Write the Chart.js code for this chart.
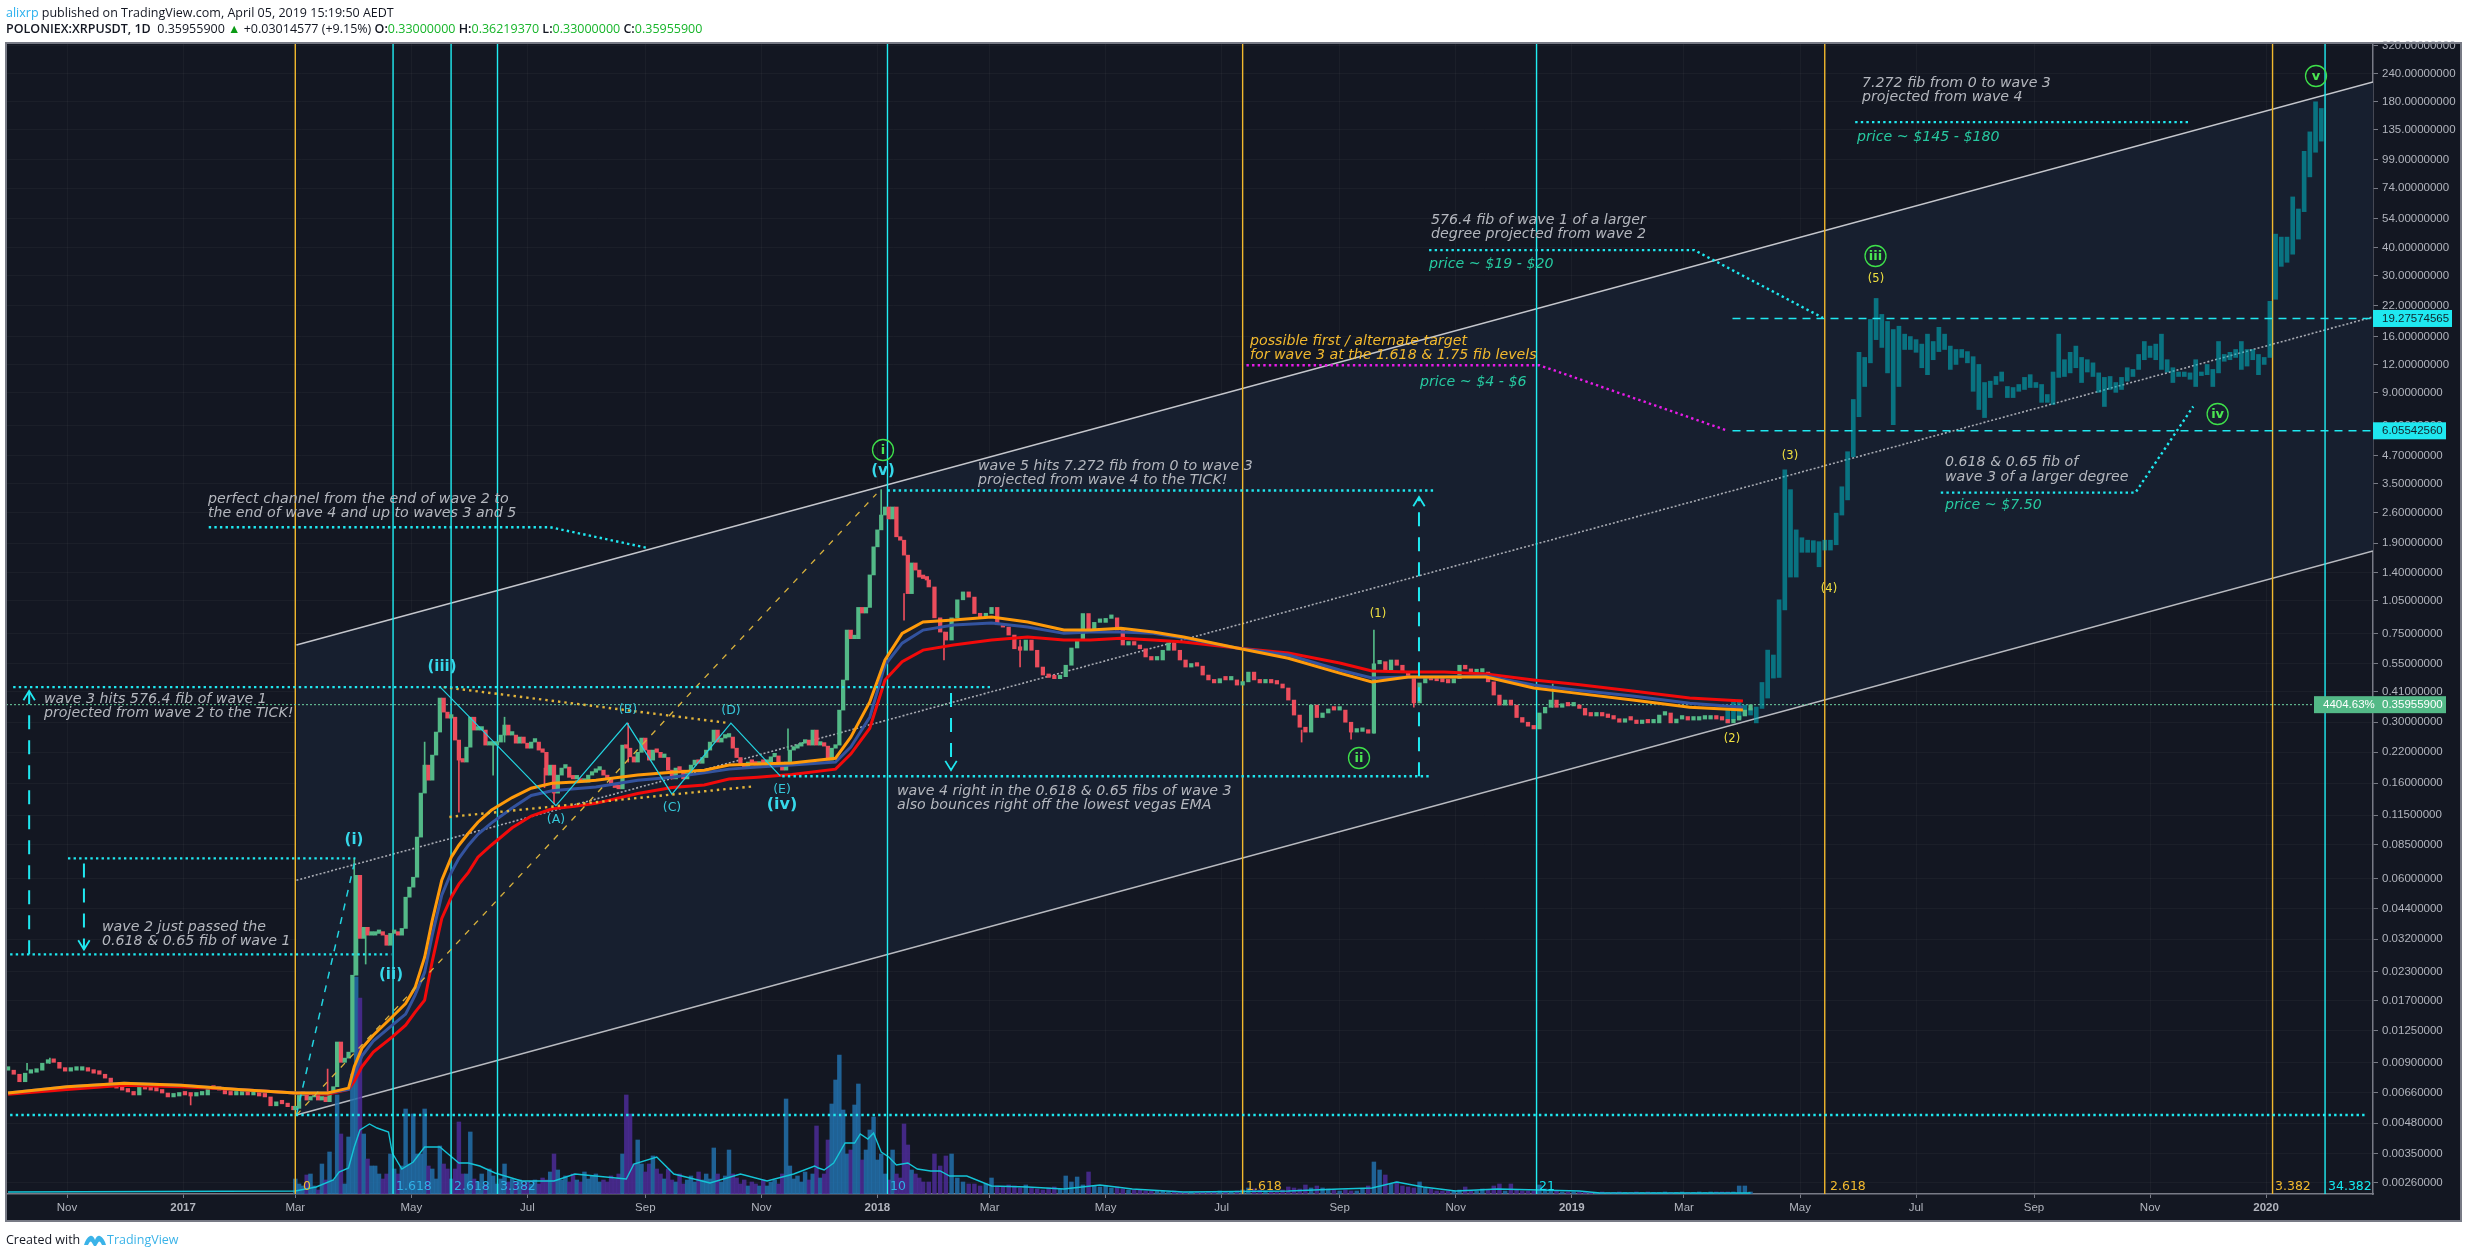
<!DOCTYPE html>
<html><head><meta charset="utf-8">
<script src="https://cdn.jsdelivr.net/npm/chart.js@4"></script>
<style>
html,body{margin:0;padding:0;background:#fff;width:2468px;height:1258px;overflow:hidden}
canvas{position:absolute;left:0;top:0}
.h{position:absolute;left:6px;font-family:"Open Sans",sans-serif;font-size:12.5px;white-space:nowrap;color:#131722;line-height:16px;transform-origin:left center;}
.h b{font-weight:600}.g{color:#17b52a}.bl{color:#2ab0ee}
</style></head><body>
<canvas id="c" width="2468" height="1258"></canvas>
<div class="h" style="top:5px;"><span class="bl">alixrp</span> published on TradingView.com, April 05, 2019 15:19:50 AEDT</div>
<div class="h" style="top:21px;"><b>POLONIEX:XRPUSDT, 1D</b> &nbsp;0.35955900 <span style="color:#0a9a14">▲</span> +0.03014577 (+9.15%) <b>O:</b><span class="g">0.33000000</span> <b>H:</b><span class="g">0.36219370</span> <b>L:</b><span class="g">0.33000000</span> <b>C:</b><span class="g">0.35955900</span></div>
<div class="h" style="top:1232px;">Created with</div>
<svg style="position:absolute;left:83px;top:1233px" width="24" height="14" viewBox="0 0 24 14"><path d="M1 12 Q3 5 7 3 Q10 2 12 7 Q14 2 17 3 Q21 5 23 12 L19 12 Q17 7 15.5 9 L13 13 L11 13 L8.5 9 Q7 7 5 12 Z" fill="#3bb3e8"/></svg>
<div class="h" style="top:1232px;left:107px;color:#3bb3e8;">TradingView</div>
<script>
// ---------- axis ticks ----------
const priceTicks=[320,240,180,135,99,74,54,40,30,22,16,12,9,6.4,4.7,3.5,2.6,1.9,1.4,1.05,.75,.55,.41,.3,.22,.16,.115,.085,.06,.044,.032,.023,.017,.0125,.009,.0066,.0048,.0035,.0026];
const timeTickDays=[0,61,120,181,242,304,365,426,485,546,607,669,730,791,850,911,972,1034,1095,1156];
const timeTickLabels=["Nov","2017","Mar","May","Jul","Sep","Nov","2018","Mar","May","Jul","Sep","Nov","2019","Mar","May","Jul","Sep","Nov","2020"];
// days are counted from 1 Nov 2016

// ---------- candle closes, USD ----------
const closes2016=[.0083,.00796,.00737,.00805,.00813,.0083,.00892,.0091,.009,.00847,.00822,.0083,.0083,.0083,.00822,.00805,.00796,.00765,.00705,.0069,.00676,.00663,.00643,.00705,.00683,.00676,.0067,.00656,.0063,.00636,.0065,.00643,.00636,.00643,.00643,.0069,.00683,.00676,.0065,.00643,.00643,.0065,.00643,.00643,.00636,.0063,.00575,.00599,.00587,.0057,.00552];
const closes2017a=[.0056,.0064,.0066,.0061,.0063,.0064,.0061,.0063,.006,.0066,.007,.0111,.009,.0094,.01,.0221,.0619,.0323,.0362,.0334,.0334,.034,.034,.0334,.0301,.034,.0345,.0334,.0358,.0494,.0548,.0607,.0918,.1445,.1928,.1651,.2138,.2711,.385,.333,.313,.316,.2496,.203,.199,.232,.316,.2767,.2767,.2767,.237,.237,.237,.2445,.2628,.2914,.2628,.2628,.2418,.2575,.2418,.2296,.2445,.2445,.2251,.22,.1739,.1928,.1445,.1739,.187,.189,.17,.1673,.1673,.1617,.1617,.1739,.179,.1831];
const closes2017b=[.1831,.1739,.1673,.1585,.153,.151,.237,.2296,.21,.199,.22,.2548,.2251,.203,.2251,.22,.2086,.2086,.1831,.1673,.187,.1831,.1673,.1775,.1928,.203,.1965,.2085,.2251,.2445,.2767,.2445,.2548,.2575,.2575,.2296,.2085,.1965,.187,.199,.1965,.1928,.199,.1965,.199,.21,.212,.1928,.1831,.199,.2251,.2296,.2345,.2418,.2496,.237,.2767,.237,.2418,.2345,.203,.2296,.237,.34,.4637,.776,.71,.71,.98,.925,.98,1.37,1.83,2.18,2.54,2.76,2.44,2.76,2.03,1.96,1.68,1.13,1.55,1.44,1.34,1.32,1.3];
const closes2018=[1.21,.88,.76,.7,.88,1.06,1.15,1.09,.92,.89,.92,.98,.82,.8,.737,.64,.63,.7,.63,.53,.488,.476,.47,.48,.54,.645,.7,.92,.776,.84,.84,.875,.88,.776,.665,.68,.665,.64,.588,.57,.57,.63,.68,.63,.57,.53,.54,.535,.488,.464,.45,.47,.464,.464,.44,.455,.503,.464,.45,.455,.45,.445,.427,.377,.323,.285,.271,.358,.315,.33,.344,.34,.34,.3,.271,.273,.277,.268,.548,.56,.514,.57,.54,.503,.476,.366,.45,.476,.464,.46,.455,.45,.47,.54,.52,.5,.503,.503,.455,.397,.358,.377,.358,.315,.3,.288,.28,.33,.35,.377,.35,.358,.355,.358,.346,.323,.32,.323,.32,.315,.31,.3,.31,.3068,.296,.3,.298,.298,.323,.33,.298,.31,.31,.3068,.3068,.31,.31,.315,.31,.3068,.298,.3068,.32,.34,.35955];

// ---------- selected wicks ----------
const wickDays=[-21,-9,65,137,151,152,157,188,206,224,230,251,256,295,379,428,440,461,501,649,675,687,708,781];
const wickHighs=[.0089,.0094,.00636,.0084,.0737,.0619,.0362,.2445,.203,.237,.316,.187,.17,.297,.28,3.3,1.13,.76,.7,.2767,.3,.776,.476,.445];
const wickLows=[.0083,.0089,.0058,.0065,.0221,.0245,.0248,.1651,.1186,.1739,.2445,.153,.1297,.199,.2251,2.44,.86,.57,.53,.2445,.252,.268,.35,.35];

// ---------- projected bars (teal), every 3 days from day 873 ----------
const projHighs=[.343,.369,.377,.358,.346,.351,.452,.631,.6,1.06,4.05,3.3,2.18,2.01,1.96,1.95,1.93,1.96,1.96,2.59,3.4,4.88,8.36,13.6,12.9,19.1,23.7,20.1,18.7,17.2,17.8,16.4,16,15.5,14.8,16.4,15.2,17.6,16.4,14.5,14,14,13.7,13,12,9.96,10.1,10.6,11.1,9.56,9.46,9.76,10.5,10.8,9.96,9.76,8.8,11.1,16.4,12.6,13.6,14.5,12.9,12.6,12.2,11,10.5,10.6,9.96,10.5,11.6,11.4,13.3,15.2,14.5,14.8,16.4,12.6,11.6,11.1,11.1,11,12.6,11.1,12,11.4,15.2,13.3,13.6,14,15.2,14,14,13.3,12.9,23,46,44.6,44.6,67.5,59.6,108,132,180,168];
const projLows=[.298,.307,.312,.323,.323,.298,.346,.385,.473,.476,.954,1.34,1.34,1.73,1.73,1.73,1.49,1.77,1.77,1.87,2.54,2.97,4.63,7,9.56,12.2,15.5,14.3,11,6.45,9.56,14,14,13.6,11.6,10.8,12.6,13.7,14,11.4,12,12.9,12.2,9.1,7.54,6.94,8.53,9.76,10.1,8.53,8.53,9.1,9.27,9.46,9.46,8.12,8.12,7.94,10.5,10.6,11,11.6,9.96,11.1,10.6,9,7.78,9.27,9,9.27,10.1,10.6,11.4,12.6,12.9,12.6,11.4,11.1,9.96,10.6,10.6,10.3,9.56,10.7,10.8,9.56,11,12.4,12.6,12.9,11.4,11.8,12.6,10.8,12,12.9,23.5,33,34.4,37.4,43.7,58,83,107,120];

// ---------- vegas EMAs ----------
const emaDays=[-31,0,30,60,90,120,137,148,151,155,161,171,178,183,188,192,197,202,206,211,216,223,234,244,255,267,278,300,318,335,348,363,381,404,412,422,430,439,450,466,486,505,524,538,554,571,587,615,642,669,686,705,724,746,771,793,823,853,881];
const emaOrange=[.00656,.007,.00725,.0071,.0068,.00656,.00656,.0069,.0086,.0104,.0119,.0144,.0165,.0195,.0266,.0389,.0588,.0746,.0844,.0955,.107,.121,.138,.152,.16,.162,.165,.174,.179,.183,.193,.195,.197,.207,.257,.37,.57,.75,.843,.86,.887,.843,.776,.776,.79,.76,.722,.645,.58,.498,.454,.478,.478,.478,.427,.405,.377,.35,.34];
const emaBlue=[.00656,.007,.00725,.0071,.0068,.00656,.00656,.0068,.008,.0096,.0112,.0132,.0148,.018,.0228,.0334,.0504,.0638,.0737,.0844,.0945,.106,.124,.141,.148,.151,.154,.165,.17,.178,.185,.189,.193,.199,.232,.316,.541,.678,.776,.817,.834,.8,.75,.76,.76,.75,.714,.645,.6,.514,.473,.478,.478,.483,.44,.418,.393,.365,.35];
const emaRed=[.00648,.0068,.0071,.007,.0068,.00656,.00648,.0068,.0074,.0086,.01,.0117,.0132,.0151,.0171,.0255,.0397,.0494,.0565,.0638,.0746,.0844,.101,.114,.123,.126,.13,.144,.153,.157,.167,.17,.175,.185,.216,.282,.464,.56,.631,.665,.7,.722,.7,.7,.714,.7,.686,.645,.612,.553,.509,.503,.503,.493,.464,.444,.414,.385,.373];

// ---------- volume (millions, estimated) ----------
const volume2017=[15,10,8,19,20,8,4,30,14,42,14,99,60,10,57,120,217,196,60,35,28,28,20,15,20,40,25,20,28,85,30,80,40,40,85,28,25,15,48,30,25,15,25,72,20,20,62,15,12,20,10,25,18,10,15,30,12,15,12,14,10,12,10,14,10,16,14,22,40,24,14,18,12,20,14,12,22,15,18,20,12,14,12,18,15,20,40,99,80,30,54,30,22,30,38,25,20,15,25,14,12,20,10,14,18,12,22,14,20,15,46,20,12,18,44,20,16,10,14,8,12,10,8,14,8,12,14,10,20,95,28,15,18,12,22,14,20,68,16,20,54,90,114,139,84,40,44,89,110,34,44,64,77,34,40,20,14,44,20,16,70,49,24,20,16,12];
const volume2018=[12,40,28,38,40,16,12,10,10,8,10,16,8,7,9,8,6,9,6,5,4,6,7,5,18,12,17,9,22,8,7,8,6,7,5,4,4,4,3,3,3,3,2,3,2,2,2,2,2,2,2,3,2,2,3,4,6,5,4,3,3,2,4,7,6,5,9,6,8,6,5,4,3,4,3,3,5,8,32,24,19,10,12,8,7,6,12,6,5,3,3,3,3,4,7,3,3,5,4,8,10,3,10,4,3,3,3,9,5,4,3,2,2,2,2,2,1.5,1.5,2,1.5,1.5,2,1.5,1.5,2,1.5,2,1.5,1.5,2,1.5,1.5,2,1.5,1.5,2,1.5,2,2,2,2,2,8,8,2];
const volMaDays=[-31,120,131,140,143,148,151,154,159,163,169,171,176,182,188,196,201,206,211,217,225,232,239,256,267,294,298,310,319,338,354,368,382,393,395,398,403,409,414,417,421,424,428,432,436,442,447,454,459,464,473,486,505,524,543,560,587,642,669,686,699,713,730,752,774,795,806,885];
const volMa=[2,3,7,14,22,26,47,64,70,66,62,41,25,32,47,47,39,31,31,28,21,17,13,13,20,15,30,37,20,11,20,13,20,28,26,24,31,51,51,60,55,61,42,37,29,31,25,23,23,18,18,8,7,5,9,5,2,3,5,6,12,7,3,5,4,3,1,1];

// ---------- drawings, [day, price] ----------
const channelTop=[[120.6,.665],[1212.2,220.8]];
const channelBottom=[[120.6,.00523],[1212.2,1.754]];
const channelMiddle=[[120.6,.0588],[1212.2,19.58]];
const goldVerticals=[120,618,924,1159.4];
const cyanVerticals=[171.4,201.9,226.3,431.3,772.5,1187];
const cyanDotted=[
 [[-28.3,.431],[485.7,.431]],
 [[.5,.0737],[151.6,.0737]],
 [[-29.9,.0274],[170.5,.0274]],
 [[-29.9,.00523],[1207.9,.00523]],
 [[431.3,3.27],[718.6,3.27]],
 [[376,.172],[717.3,.172]],
 [[940,146],[1115.7,146]],
 [[716,39],[855.5,39],[923,19.4]],
 [[985,3.2],[1087.3,3.2],[1117.7,7.78]],
 [[74.5,2.24],[254,2.24],[305,1.81]]
];
const magentaDotted=[[620,11.9],[774,11.9],[873,6.06]];
const goldDotted=[[[198,.431],[348,.2973]],[[201,.113],[361.5,.1551]]];
const goldDashed=[[120.6,.00523],[425.5,3.16]];
const cyanThinDashed=[[120.6,.00523],[151,.07]];
const zigzag=[[196.2,.431],[257,.1269],[294.4,.2973],[318,.1429],[349,.2973],[375,.172]];
const targetLevels=[[875.5,19.27574565],[875.5,6.0554256]];
const arrows=[[-19.9,.0274,.4137],[8.9,.07,.0288],[464.7,.4055,.1831],[710.7,.172,3.06]];
const lastPrice=.359559;

// ---------- build ----------
const series=(days,vals)=>days.map((d,i)=>({x:d,y:vals[i]}));
const pts=a=>a.map(p=>({x:p[0],y:p[1]}));
const candleDays=[],candleClose=[];
closes2016.forEach((c,i)=>{candleDays.push(-31+3*i);candleClose.push(c)});
closes2017a.forEach((c,i)=>{candleDays.push(120+2*i);candleClose.push(c)});
closes2017b.forEach((c,i)=>{candleDays.push(280+2*i);candleClose.push(c)});
closes2018.forEach((c,i)=>{candleDays.push(453+3*i);candleClose.push(c)});
const candleOpen=candleClose.map((c,i)=>i?candleClose[i-1]:c);
const isUp=i=>candleClose[i]>=candleOpen[i];
const nearest=d=>{let b=0,m=1e9;candleDays.forEach((x,i)=>{const t=Math.abs(x-d);if(t<m){m=t;b=i}});return b};
const UP='#53b987',DOWN='#eb4d5c',GOLD='#f2b92e',CYAN='#1fe8f0',BG='#131722';
const PMIN=.002316,PMAX=330;

const line=(data,color,width,dash,order,extra)=>Object.assign({type:'line',data,borderColor:color,borderWidth:width,borderDash:dash||[],pointRadius:0,tension:0,fill:false,order:order,yAxisID:'y',borderCapStyle:'butt'},extra||{});
const bars=(data,colors,thick,order,axis,extra)=>Object.assign({type:'bar',data,backgroundColor:colors,barThickness:thick,grouped:false,order:order,yAxisID:axis||'y',minBarLength:3.5,borderWidth:0},extra||{});

const datasets=[];
datasets.push(line(pts(channelBottom),'#b8bac0',1.6,[],80));
const bottomIndex=0;
datasets.push(line(pts(channelTop),'#c4c6cc',1.6,[],80,{fill:{target:bottomIndex,above:'#171f2f',below:'#171f2f'}}));
datasets.push(line(pts(channelMiddle),'#a8abb3',1.6,[2,2],79));

const volDays=[...volume2017.map((_,i)=>120+2*i),...volume2018.map((_,i)=>453+3*i)];
const volVals=[...volume2017,...volume2018];
datasets.push(bars(series(volDays,volVals),volDays.map(d=>isUp(nearest(d))?'rgba(34,112,170,.85)':'rgba(76,44,150,.85)'),3.8,70,'yv',{minBarLength:0}));
datasets.push(line(series(volMaDays,volMa),'#14c4d6',1.4,[],69,{yAxisID:'yv'}));

goldVerticals.forEach(d=>datasets.push(line([{x:d,y:PMIN},{x:d,y:PMAX}],GOLD,1.4,[],60)));
cyanVerticals.forEach(d=>datasets.push(line([{x:d,y:PMIN},{x:d,y:PMAX}],'#20eef2',1.4,[],60)));

datasets.push(line([{x:-32.07,y:lastPrice},{x:1212.2,y:lastPrice}],'#6fd3a4',1,[2,2],59));

datasets.push(bars(series(projHighs.map((_,i)=>873+3*i),projHighs.map((h,i)=>[projLows[i],h])),'rgba(0,176,190,.58)',4,52));
datasets.push(bars(series(wickDays,wickHighs.map((h,i)=>[wickLows[i],h])),wickDays.map(d=>isUp(nearest(d))?UP:DOWN),1,51));
datasets.push(bars(series(candleDays,candleClose.map((c,i)=>[candleOpen[i],c])),candleDays.map((_,i)=>isUp(i)?UP:DOWN),3.6,50));

datasets.push(line(series(emaDays,emaRed),'#f20a0a',3,[],42));
datasets.push(line(series(emaDays,emaBlue),'#33539f',3,[],41));
datasets.push(line(series(emaDays,emaOrange),'#ff9a0a',3,[],40));

cyanDotted.forEach(s=>datasets.push(line(pts(s),CYAN,2.4,[2.4,3.2],30)));
datasets.push(line(pts(magentaDotted),'#e81ce8',2.4,[2.4,3.2],30));
goldDotted.forEach(s=>datasets.push(line(pts(s),'#e2b43a',2.4,[2.4,4],31)));
datasets.push(line(pts(goldDashed),'#d9b23c',1.3,[6,7],32));
datasets.push(line(pts(cyanThinDashed),'#22d4e0',1.5,[7,7],32));
datasets.push(line(pts(zigzag),'#22d4e0',1.2,[],33));
targetLevels.forEach(s=>datasets.push(line([{x:s[0],y:s[1]},{x:1212.2,y:s[1]}],CYAN,1.6,[8,6],30)));
arrows.forEach(a=>{
  datasets.push(line([{x:a[0],y:a[1]},{x:a[0],y:a[2]}],CYAN,2,[14,11],28));
  const f=a[2]>a[1]?1/1.1:1.1;
  datasets.push(line([{x:a[0]-3,y:a[2]*f},{x:a[0],y:a[2]},{x:a[0]+3,y:a[2]*f}],CYAN,1.8,[],27));
});

// ---------- text, placed on the page ----------
const NOTE='italic 14.2px "DejaVu Sans"';
const FIB='12.5px "DejaVu Sans"';
const notes=[
 ["wave 3 hits 576.4 fib of wave 1",44,699,'#b4b7be',NOTE],["projected from wave 2 to the TICK!",44,713,'#b4b7be',NOTE],
 ["wave 2 just passed the",102,927,'#b4b7be',NOTE],["0.618 & 0.65 fib of wave 1",102,941,'#b4b7be',NOTE],
 ["perfect channel from the end of wave 2 to",208,499,'#b4b7be',NOTE],["the end of wave 4 and up to waves 3 and 5",208,513,'#b4b7be',NOTE],
 ["wave 5 hits 7.272 fib from 0 to wave 3",978,466,'#b4b7be',NOTE],["projected from wave 4 to the TICK!",978,480,'#b4b7be',NOTE],
 ["wave 4 right in the 0.618 & 0.65 fibs of wave 3",897,791,'#b4b7be',NOTE],["also bounces right off the lowest vegas EMA",897,805,'#b4b7be',NOTE],
 ["possible first / alternate target",1250,341,'#f2b92e',NOTE],["for wave 3 at the 1.618 & 1.75 fib levels",1250,355,'#f2b92e',NOTE],
 ["price ~ $4 - $6",1420,382,'#26c9a0',NOTE],
 ["576.4 fib of wave 1 of a larger",1431,220,'#b4b7be',NOTE],["degree projected from wave 2",1431,234,'#b4b7be',NOTE],
 ["price ~ $19 - $20",1429,264,'#26c9a0',NOTE],
 ["7.272 fib from 0 to wave 3",1862,83,'#b4b7be',NOTE],["projected from wave 4",1862,97,'#b4b7be',NOTE],
 ["price ~ $145 - $180",1857,137,'#26c9a0',NOTE],
 ["0.618 & 0.65 fib of",1945,462,'#b4b7be',NOTE],["wave 3 of a larger degree",1945,477,'#b4b7be',NOTE],
 ["price ~ $7.50",1945,505,'#26c9a0',NOTE],
 ["0",303,1187,GOLD,FIB],["1.618",396,1187,'#2fb0e6',FIB],["2.618",454,1187,'#2fb0e6',FIB],["3.382",500,1187,'#2fb0e6',FIB],
 ["10",890,1187,'#2fb0e6',FIB],["1.618",1246,1187,GOLD,FIB],["21",1539,1187,'#14e0ee',FIB],
 ["2.618",1830,1187,GOLD,FIB],["3.382",2275,1187,GOLD,FIB],["34.382",2328,1187,'#14e8f0',FIB]
];
const WAVE='bold 15px "DejaVu Sans"',SUB='12.5px "DejaVu Sans"',YEL='11.5px "DejaVu Sans"';
const centered=[
 ["(i)",354,840,'#36d8ea',WAVE],["(ii)",391,975,'#36d8ea',WAVE],["(iii)",442,667,'#36d8ea',WAVE],["(iv)",782,805,'#36d8ea','bold 16px "DejaVu Sans"'],["(v)",883,471,'#36d8ea',WAVE],
 ["(A)",556,820,'#36c8da',SUB],["(B)",628,710,'#36c8da',SUB],["(C)",672,808,'#36c8da',SUB],["(D)",731,711,'#36c8da',SUB],["(E)",782,790,'#36c8da',SUB],
 ["(1)",1378,614,'#f0e040',YEL],["(2)",1732,739,'#f0e040',YEL],["(3)",1790,456,'#f0e040',YEL],["(4)",1829,589,'#f0e040',YEL],["(5)",1876,279,'#f0e040',YEL]
];
const circled=[["i",883,450],["ii",1359,758],["iii",1875.5,256],["iv",2217.6,414],["v",2316,76]];
const tags=[
 [19.27574565,"19.27574565",2373,79,CYAN,'#11242b'],[6.0554256,"6.05542560",2373,73,CYAN,'#11242b'],
 [lastPrice,"0.35955900",2373,73,UP,'#fff'],[lastPrice,"4404.63%",2314,59,UP,'#fff']
];

const framePlugin={id:'frame',beforeDraw(c){const g=c.ctx;g.save();g.fillStyle=BG;g.fillRect(6,43,2455,1178);g.restore();},
 afterDraw(c){const g=c.ctx;g.save();
  g.strokeStyle='#787b86';g.lineWidth=2;g.strokeRect(6,43,2455,1178);
  g.textBaseline='middle';g.textAlign='left';
  notes.forEach(n=>{g.font=n[4];g.fillStyle=n[3];g.fillText(n[0],n[1],n[2]);});
  g.textAlign='center';
  centered.forEach(n=>{g.font=n[4];g.fillStyle=n[3];g.fillText(n[0],n[1],n[2]);});
  circled.forEach(n=>{g.strokeStyle='#3ee04a';g.lineWidth=1.3;g.beginPath();g.arc(n[1],n[2],10.5,0,Math.PI*2);g.stroke();g.font='bold 13px "DejaVu Sans"';g.fillStyle='#4be652';g.fillText(n[0],n[1],n[2]+.5);});
  const y=c.scales.y;g.textAlign='left';g.font='11.5px "Liberation Sans"';
  tags.forEach(t=>{const p=y.getPixelForValue(t[0]);g.fillStyle=t[4];g.fillRect(t[2],p-8.5,t[3],17);g.fillStyle=t[5];g.fillText(t[1],t[2]+9,p+.5);});
  g.restore();}};

new Chart(document.getElementById('c'),{type:'bar',data:{datasets},plugins:[framePlugin],options:{
 responsive:false,animation:false,devicePixelRatio:1,
 layout:{padding:{left:6,top:43,right:7,bottom:37}},
 plugins:{legend:{display:false},tooltip:{enabled:false},title:{display:false},filler:{drawTime:'beforeDatasetsDraw'}},
 scales:{
  x:{type:'linear',min:-32.07,max:1212.2,offset:false,position:'bottom',
     afterBuildTicks:s=>{s.ticks=timeTickDays.map(v=>({value:v}))},
     afterFit:s=>{s.height=27},
     border:{color:'#787b86',width:1.5},
     grid:{color:'rgba(255,255,255,.035)',offset:false,tickColor:'#787b86',tickLength:4,borderDash:[2,3]},
     ticks:{autoSkip:false,maxRotation:0,padding:3,color:'#b2b5be',
       font:ctx=>{const l=timeTickLabels[ctx.index]||'';return{family:'"Liberation Sans"',size:11.5,weight:/^\d/.test(l)?'bold':'normal'}},
       callback:(v,i)=>timeTickLabels[i]}},
  y:{type:'logarithmic',min:PMIN,max:PMAX,position:'right',
     afterBuildTicks:s=>{s.ticks=priceTicks.map(v=>({value:v}))},
     afterFit:s=>{s.width=88},
     border:{color:'#787b86',width:1.5},
     grid:{color:'rgba(255,255,255,.035)',tickColor:'#787b86',tickLength:5,borderDash:[2,3]},
     ticks:{autoSkip:false,padding:4,color:'#b2b5be',font:{family:'"Liberation Sans"',size:11.5},callback:v=>Number(v).toFixed(8)}},
  yv:{type:'linear',min:0,max:1151,display:false}
 }}});
</script></body></html>
